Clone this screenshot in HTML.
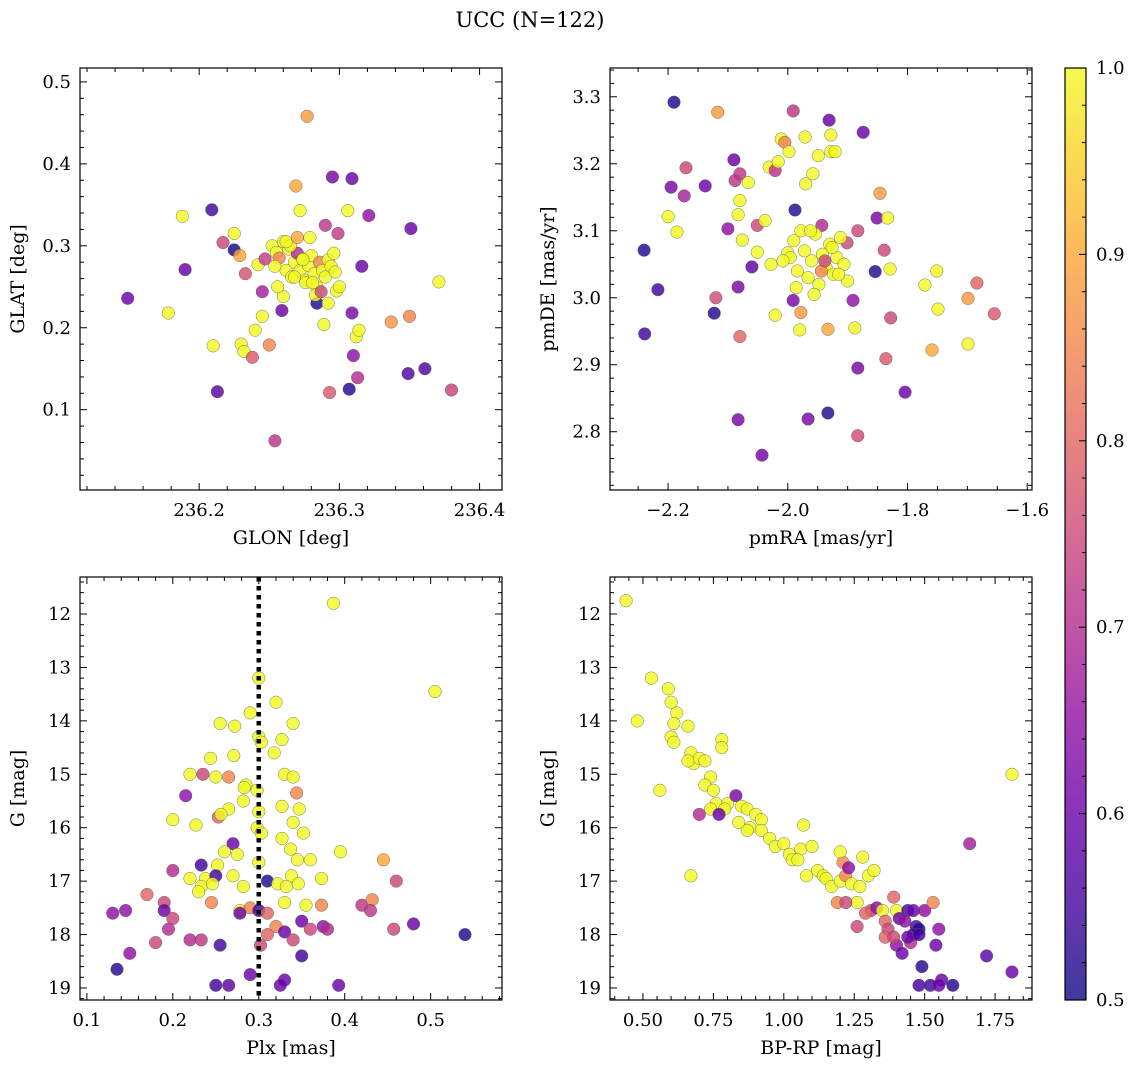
<!DOCTYPE html>
<html><head><meta charset="utf-8">
<style>
html,body{margin:0;padding:0;background:#fff;}
svg{display:block;font-family:"DejaVu Serif","Liberation Serif",serif;}
</style></head>
<body>
<svg id="fig" width="1136" height="1067" viewBox="0 0 1136 1067" xmlns="http://www.w3.org/2000/svg">
<text x="530" y="27" text-anchor="middle" font-size="21">UCC (N=122)</text>
</svg>
<script>
// ---- Panel 1: GLON vs GLAT ----
const glonVals=[236.149,236.178,236.188,236.190,236.209,236.210,236.213,236.217,236.225,236.225,236.229,236.230,236.232,236.233,236.238,236.240,236.242,236.245,236.245,236.247,236.250,236.254,236.259,236.269,236.272,236.277,236.284,236.289,236.295,236.309,236.309,236.310,236.312,236.314,236.313,236.316,236.321,236.293,236.307,236.337,236.350,236.351,236.349,236.361,236.371,236.380,236.290,236.299,236.306,
236.252,236.255,236.257,236.260,236.262,236.264,236.266,236.268,236.270,236.272,236.274,236.276,236.278,236.280,236.282,236.284,236.286,236.288,236.290,236.292,236.294,236.296,236.298,236.300,236.283,236.276,236.268,236.260,236.256,236.265,236.279,236.274,236.262,236.287,236.292,236.297,236.254,236.270,236.281];
const glatVals=[0.236,0.218,0.336,0.271,0.344,0.178,0.122,0.304,0.315,0.295,0.288,0.180,0.171,0.266,0.164,0.197,0.277,0.214,0.244,0.284,0.179,0.062,0.221,0.373,0.343,0.458,0.230,0.204,0.384,0.382,0.218,0.166,0.189,0.197,0.139,0.275,0.337,0.121,0.125,0.207,0.214,0.321,0.144,0.150,0.256,0.124,0.325,0.315,0.343,
0.300,0.292,0.285,0.305,0.270,0.296,0.262,0.280,0.291,0.270,0.284,0.258,0.276,0.288,0.266,0.250,0.280,0.270,0.262,0.283,0.275,0.291,0.245,0.250,0.240,0.255,0.262,0.238,0.250,0.300,0.310,0.283,0.305,0.244,0.230,0.268,0.275,0.310,0.255];
const p1Prob=[0.6,1,1,0.6,0.55,1,0.58,0.75,1,0.5,0.9,1,1,0.77,0.78,1,1,1,0.68,0.73,0.85,0.72,0.6,0.9,1,0.88,0.52,1,0.62,0.6,0.62,0.65,1,1,0.7,0.6,0.65,0.78,0.52,0.87,0.85,0.6,0.57,0.57,1,0.74,0.72,0.73,1,
1,1,0.85,1,1,1,1,1,0.7,1,1,1,1,1,1,1,0.85,1,1,1,1,1,1,1,1,1,1,1,1,1,1,1,1,0.75,1,1,1,0.9,1];
// ---- Panel 2: pmRA vs pmDE ----
const pmraVals=[-2.239,-2.217,-2.240,-2.200,-2.195,-2.185,-2.173,-2.170,-2.190,-2.138,-2.117,-2.120,-2.123,-2.100,-2.090,-2.088,-2.083,-2.080,-2.076,-2.083,-2.080,-2.083,-2.080,-2.066,-2.060,-2.051,-2.051,-2.043,-2.038,-2.031,-2.028,-2.021,-2.021,-2.016,-2.011,-2.005,-2.000,-1.998,-1.991,-1.991,-1.988,-1.980,-1.978,-1.971,-1.970,-1.966,-1.958,-1.949,-1.943,-1.933,-1.933,-1.931,-1.928,-1.928,-1.921,-1.901,-1.891,-1.888,-1.883,-1.883,-1.883,-1.874,-1.854,-1.851,-1.846,-1.839,-1.836,-1.833,-1.829,-1.828,-1.804,-1.771,-1.759,-1.751,-1.749,-1.699,-1.699,-1.684,-1.655,
-1.996,-1.990,-1.984,-1.978,-1.972,-1.966,-1.960,-1.954,-1.948,-1.942,-1.936,-1.930,-1.924,-1.918,-1.912,-1.906,-1.900,-1.986,-1.962,-1.944,-1.926,-1.956,-1.938,-2.008,-1.915];
const pmdeVals=[2.946,3.012,3.071,3.121,3.165,3.098,3.152,3.194,3.292,3.167,3.277,3.000,2.977,3.103,3.206,3.175,3.124,3.145,3.086,3.016,2.942,2.818,3.185,3.172,3.046,3.108,3.068,2.765,3.115,3.195,3.050,2.974,3.190,3.203,3.237,3.232,3.067,3.218,3.279,2.996,3.131,2.952,2.978,3.240,3.170,2.819,3.185,3.212,3.108,2.953,2.828,3.265,3.243,3.218,3.218,3.082,2.996,2.955,2.895,2.794,3.100,3.247,3.039,3.119,3.156,3.071,2.909,3.119,3.043,2.970,2.859,3.019,2.922,3.040,2.983,2.999,2.931,3.022,2.976,
3.060,3.085,3.040,3.100,3.070,3.030,3.055,3.095,3.020,3.065,3.045,3.080,3.035,3.060,3.090,3.050,3.025,3.015,3.100,3.040,3.075,3.005,3.055,3.055,3.035];
const p2Prob=[0.55,0.55,0.52,1,0.62,1,0.68,0.75,0.52,0.6,0.88,0.76,0.52,0.65,0.6,0.72,1,1,1,0.62,0.8,0.62,0.72,1,0.58,0.75,1,0.62,1,1,1,1,0.72,1,1,0.85,1,1,0.72,0.62,0.52,1,0.88,1,1,0.62,1,1,0.7,0.9,0.52,0.6,1,1,1,0.75,0.65,1,0.62,0.76,0.75,0.6,0.52,0.62,0.88,0.75,0.78,1,1,0.75,0.6,1,0.9,1,1,0.88,1,0.8,0.78,
1,1,1,1,1,1,1,1,1,1,1,1,1,1,1,1,1,1,1,0.85,1,1,0.75,1,1];
// ---- Panel 3: Plx vs G ----
const plxVals=[0.387,0.505,0.300,0.320,0.255,0.290,0.272,0.340,0.300,0.303,0.327,0.318,0.244,0.271,0.235,0.220,0.250,0.285,0.283,0.298,0.330,0.340,0.344,0.265,0.300,0.327,0.347,0.340,0.215,0.282,0.265,0.253,0.256,0.200,0.227,0.298,0.303,0.327,0.337,0.352,0.270,0.260,0.275,0.360,0.395,0.345,0.300,0.252,0.233,0.200,0.220,0.238,0.250,0.233,0.230,0.246,0.282,0.270,0.310,0.322,0.338,0.332,0.346,0.373,0.445,0.460,0.170,0.190,0.245,0.278,0.290,0.330,0.355,0.373,0.420,0.432,0.430,0.130,0.145,0.190,0.200,0.300,0.310,0.278,0.320,0.350,0.360,0.375,0.380,0.457,0.480,0.540,0.195,0.180,0.220,0.233,0.255,0.302,0.310,0.330,0.340,0.135,0.150,0.290,0.330,0.350,0.250,0.265,0.325,0.393];
const gPlxVals=[11.8,13.45,13.2,13.65,14.05,13.85,14.1,14.05,14.3,14.4,14.35,14.6,14.7,14.65,15.0,15.0,15.05,15.2,15.25,15.3,15.0,15.05,15.35,15.05,15.7,15.6,15.65,15.9,15.4,15.5,15.65,15.8,15.75,15.85,15.95,16.0,16.1,16.2,16.4,16.1,16.3,16.45,16.5,16.6,16.45,16.6,16.65,16.7,16.7,16.8,16.95,16.95,16.9,17.1,17.2,17.05,17.1,16.9,17.0,17.05,16.9,17.1,17.05,16.95,16.6,17.0,17.25,17.4,17.4,17.55,17.5,17.4,17.45,17.45,17.45,17.35,17.55,17.6,17.55,17.55,17.7,17.55,17.6,17.6,17.85,17.75,17.9,17.85,17.9,17.9,17.8,18.0,17.9,18.15,18.1,18.1,18.2,18.2,18.0,17.95,18.1,18.65,18.35,18.75,18.85,18.4,18.95,18.95,18.95,18.95];
const p3Prob=[1,1,1,1,1,1,1,1,1,1,1,1,1,1,0.75,1,1,1,1,1,1,1,0.85,0.85,1,1,1,1,0.65,1,1,0.8,1,1,1,1,1,1,1,1,0.6,1,1,1,1,1,1,1,0.55,0.7,1,1,0.55,1,1,1,1,1,0.52,1,1,1,1,1,0.9,0.75,0.8,0.75,0.85,1,0.85,1,1,0.85,0.72,0.85,0.72,0.65,0.65,0.6,0.75,0.55,0.8,0.6,0.85,0.6,0.75,0.65,0.7,0.75,0.6,0.52,0.7,0.75,0.7,0.72,0.55,0.75,0.8,0.6,0.75,0.52,0.65,0.6,0.6,0.55,0.55,0.58,0.6,0.6];
const plxRef=[0.30];
// ---- Panel 4: BP-RP vs G ----
const bprpVals=[0.44,0.53,0.59,0.60,0.62,0.61,0.48,0.60,0.61,0.66,0.67,0.68,0.66,0.70,0.72,0.74,0.78,0.78,0.56,0.72,0.75,0.76,0.80,0.79,0.74,0.77,0.70,0.83,0.85,0.87,0.90,0.92,0.84,0.88,0.87,0.92,0.95,0.97,1.00,1.02,1.03,1.06,1.07,1.05,1.10,1.12,1.08,1.14,1.15,1.17,1.20,1.22,1.21,1.23,1.20,1.24,1.27,1.28,1.30,1.26,1.32,1.19,1.22,1.31,1.29,1.33,1.35,1.36,1.39,1.37,1.26,1.40,1.41,1.44,1.46,1.43,1.47,1.48,1.50,1.46,1.36,1.40,1.39,1.42,1.45,1.44,1.48,1.53,1.55,1.54,1.49,1.56,1.48,1.52,1.55,1.60,1.72,1.81,1.81,1.66,0.67];
const gBprpVals=[11.75,13.2,13.4,13.65,13.85,14.05,14.0,14.3,14.4,14.1,14.6,14.8,14.75,14.7,14.75,15.05,14.35,14.5,15.3,15.2,15.3,15.55,15.55,15.65,15.65,15.75,15.75,15.4,15.6,15.65,15.75,15.85,15.9,16.0,16.05,16.05,16.2,16.35,16.3,16.5,16.6,16.4,15.95,16.6,16.35,16.8,16.9,16.9,16.95,17.1,17.0,16.9,16.65,16.75,16.45,17.05,17.1,16.55,16.9,17.4,16.8,17.4,17.4,17.55,17.6,17.5,17.55,17.75,17.3,17.9,17.85,17.55,17.7,17.55,17.55,17.75,17.85,17.9,17.55,18.0,18.05,18.2,18.05,18.35,18.15,18.05,18.0,17.4,17.9,18.2,18.6,18.85,18.95,18.95,18.95,18.95,18.4,18.7,15.0,16.3,16.9];
const p4Prob=[1,1,1,1,1,1,1,1,1,1,1,1,1,1,1,1,1,1,1,1,1,1,1,1,1,0.6,0.7,0.62,1,1,1,1,1,1,1,1,1,1,1,1,1,1,1,1,1,1,1,1,1,1,1,0.85,0.85,0.65,1,1,1,1,1,1,1,0.85,0.75,0.75,0.8,0.65,1,0.8,0.8,0.75,0.75,1,0.6,0.55,0.6,0.65,0.55,0.52,0.65,0.55,0.8,0.65,0.75,0.6,0.7,0.6,0.55,0.85,0.65,0.6,0.52,0.6,0.55,0.55,0.6,0.52,0.58,0.6,1,0.68,1];
// colorbar
const cbTicks=[0.5,0.6,0.7,0.8,0.9,1.0];

const NS='http://www.w3.org/2000/svg';
const svg=document.getElementById('fig');
function mk(tag,attrs,parent){const e=document.createElementNS(NS,tag);for(const k in attrs)e.setAttribute(k,attrs[k]);(parent||svg).appendChild(e);return e;}
const stops=[[0,'#0d0887'],[0.1,'#41049d'],[0.2,'#6a00a8'],[0.3,'#8f0da4'],[0.4,'#b12a90'],[0.5,'#cc4778'],[0.6,'#e16462'],[0.7,'#f2844b'],[0.8,'#fca636'],[0.9,'#fcce25'],[1,'#f0f921']];
function hex(h){return [parseInt(h.substr(1,2),16),parseInt(h.substr(3,2),16),parseInt(h.substr(5,2),16)];}
function cmap(v){const t=Math.max(0,Math.min(1,(v-0.5)/0.5));for(let i=1;i<stops.length;i++){if(t<=stops[i][0]){const a=stops[i-1],b=stops[i];const f=(t-a[0])/(b[0]-a[0]);const ca=hex(a[1]),cb=hex(b[1]);return 'rgb('+ca.map((c,j)=>Math.round(c+(cb[j]-c)*f)).join(',')+')';}}return stops[stops.length-1][1];}
function fmt(v,d){const s=Math.abs(v).toFixed(d);return (v<0?'\u2212':'')+s;}

function panel(o){
  const g=mk('g',{});
  
  
  const sx=v=>o.L+(v-o.x0)/(o.x1-o.x0)*(o.R-o.L);
  const sy=v=>o.B-(v-o.y0)/(o.y1-o.y0)*(o.B-o.T);
  const clip=mk('clipPath',{id:'c'+o.name},g);mk('rect',{x:o.L,y:o.T,width:o.R-o.L,height:o.B-o.T},clip);
  const pts=mk('g',{'clip-path':'url(#c'+o.name+')'},g);
  for(let i=0;i<o.xs.length;i++){
    const c=mk('circle',{cx:sx(o.xs[i]).toFixed(1),cy:sy(o.ys[i]).toFixed(1),r:6.3,fill:cmap(o.cs[i]),'fill-opacity':0.82,stroke:'#555','stroke-width':0.4},pts);
    
    
  }
  if(o.vline){const l=mk('line',{x1:sx(o.vline[0]),x2:sx(o.vline[0]),y1:o.T,y2:o.B,stroke:'#000','stroke-width':4.5,'stroke-dasharray':'4.5,4.5'},pts);
    
    }
  const fr=mk('rect',{x:o.L,y:o.T,width:o.R-o.L,height:o.B-o.T,fill:'none',stroke:'#000','stroke-width':1.2},g);
  
  
  const eps=1e-9;
  for(let v=Math.ceil((o.x0)/o.xmin-eps)*o.xmin;v<=o.x1+eps;v+=o.xmin){
    const px=sx(v);const major=Math.abs(v/o.xmaj-Math.round(v/o.xmaj))<1e-4;const len=major?7:4;
    mk('line',{x1:px,x2:px,y1:o.B,y2:o.B-len,stroke:'#000','stroke-width':1},g);
    mk('line',{x1:px,x2:px,y1:o.T,y2:o.T+len,stroke:'#000','stroke-width':1},g);
    if(major){const t=mk('text',{x:px,y:o.B+26,'text-anchor':'middle','font-size':18},g);t.textContent=fmt(v,o.xd);
      
      }
  }
  const ya=Math.min(o.y0,o.y1),yb=Math.max(o.y0,o.y1);
  for(let v=Math.ceil(ya/o.ymin-eps)*o.ymin;v<=yb+eps;v+=o.ymin){
    const py=sy(v);const major=Math.abs(v/o.ymaj-Math.round(v/o.ymaj))<1e-4;const len=major?7:4;
    mk('line',{x1:o.L,x2:o.L+len,y1:py,y2:py,stroke:'#000','stroke-width':1},g);
    mk('line',{x1:o.R,x2:o.R-len,y1:py,y2:py,stroke:'#000','stroke-width':1},g);
    if(major){const t=mk('text',{x:o.L-9,y:py+6,'text-anchor':'end','font-size':18},g);t.textContent=fmt(v,o.yd);
      
      }
  }
  const xl=mk('text',{x:(o.L+o.R)/2,y:o.B+54,'text-anchor':'middle','font-size':19},g);xl.textContent=o.xlab;
  
  
  const yx=o.L-56,yy=(o.T+o.B)/2;
  const yl=mk('text',{x:yx,y:yy,'text-anchor':'middle','font-size':19,transform:'rotate(-90 '+yx+' '+yy+')'},g);yl.textContent=o.ylab;
  
  
}
panel({name:'glon-glat-panel',L:80,R:502,T:68,B:490,x0:236.115,x1:236.416,y0:0.002,y1:0.517,xmaj:0.1,xmin:0.02,ymaj:0.1,ymin:0.02,xd:1,yd:1,xs:glonVals,ys:glatVals,cs:p1Prob,xlab:'GLON [deg]',ylab:'GLAT [deg]'});
panel({name:'pm-panel',L:610,R:1032,T:68,B:490,x0:-2.297,x1:-1.592,y0:2.713,y1:3.343,xmaj:0.2,xmin:0.05,ymaj:0.1,ymin:0.02,xd:1,yd:1,xs:pmraVals,ys:pmdeVals,cs:p2Prob,xlab:'pmRA [mas/yr]',ylab:'pmDE [mas/yr]'});
panel({name:'plx-g-panel',L:80,R:502,T:577,B:1000,x0:0.092,x1:0.583,y0:19.225,y1:11.307,xmaj:0.1,xmin:0.02,ymaj:1,ymin:0.2,xd:1,yd:0,xs:plxVals,ys:gPlxVals,cs:p3Prob,vline:plxRef,xlab:'Plx [mas]',ylab:'G [mag]'});
panel({name:'cmd-panel',L:610,R:1032,T:577,B:1000,x0:0.383,x1:1.881,y0:19.225,y1:11.307,xmaj:0.25,xmin:0.05,ymaj:1,ymin:0.2,xd:2,yd:0,xs:bprpVals,ys:gBprpVals,cs:p4Prob,xlab:'BP-RP [mag]',ylab:'G [mag]'});

(function(){
  const L=1065,R=1086,T=68,B=1000;
  const g=mk('g',{});
  
  
  const defs=mk('defs',{},g);
  const lg=mk('linearGradient',{id:'cbg',x1:0,y1:1,x2:0,y2:0},defs);
  stops.forEach(s=>mk('stop',{offset:s[0],'stop-color':s[1],'stop-opacity':0.8},lg));
  mk('rect',{x:L,y:T,width:R-L,height:B-T,fill:'url(#cbg)',stroke:'#000','stroke-width':1.2},g);
  const sy=v=>B-(v-0.5)/0.5*(B-T);
  for(let k=0;k<=25;k++){const v=0.5+k*0.02;const py=sy(v);const major=k%5===0;
    mk('line',{x1:R,x2:R-(major?7:4),y1:py,y2:py,stroke:'#000','stroke-width':1},g);}
  cbTicks.forEach(v=>{const t=mk('text',{x:R+10,y:sy(v)+6,'font-size':18},g);t.textContent=v.toFixed(1);
    
    });
})();
</script>
</body></html>
